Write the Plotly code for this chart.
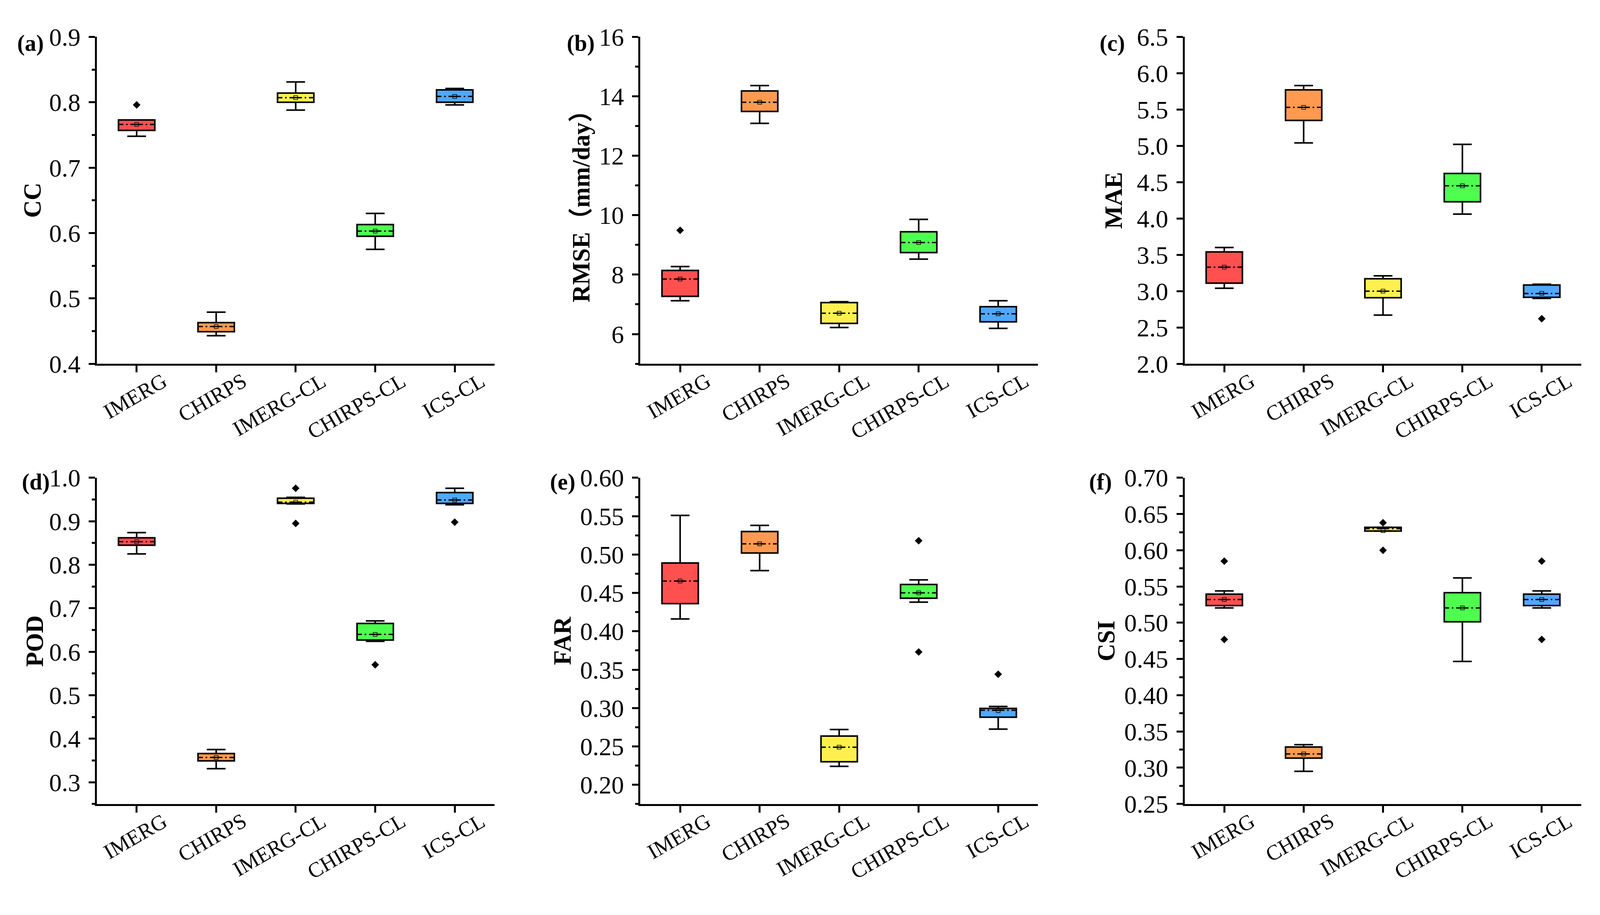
import plotly.graph_objects as go
from plotly.subplots import make_subplots

# ============================================
# DATA
# ============================================
categories = ['IMERG', 'CHIRPS', 'IMERG-CL', 'CHIRPS-CL', 'ICS-CL']

# (a) CC
cc_low = [0.748, 0.443, 0.788, 0.575, 0.796]
cc_q1 = [0.757, 0.449, 0.800, 0.595, 0.800]
cc_med = [0.766, 0.457, 0.807, 0.603, 0.809]
cc_q3 = [0.773, 0.463, 0.814, 0.613, 0.819]
cc_high = [0.773, 0.479, 0.831, 0.630, 0.821]
cc_mean = [0.766, 0.457, 0.807, 0.603, 0.809]
cc_out = [[0.796], [], [], [], []]

# (b) RMSE
rmse_low = [7.12, 13.09, 6.22, 8.52, 6.19]
rmse_q1 = [7.27, 13.49, 6.36, 8.74, 6.41]
rmse_med = [7.85, 13.80, 6.70, 9.08, 6.68]
rmse_q3 = [8.14, 14.18, 7.06, 9.44, 6.92]
rmse_high = [8.27, 14.36, 7.09, 9.86, 7.12]
rmse_mean = [7.85, 13.80, 6.70, 9.08, 6.68]
rmse_out = [[9.49], [], [], [], []]

# (c) MAE
mae_low = [3.04, 5.04, 2.67, 4.06, 2.90]
mae_q1 = [3.11, 5.35, 2.91, 4.23, 2.915]
mae_med = [3.33, 5.53, 3.00, 4.45, 2.967]
mae_q3 = [3.54, 5.77, 3.17, 4.62, 3.084]
mae_high = [3.60, 5.83, 3.21, 5.02, 3.095]
mae_mean = [3.33, 5.53, 3.00, 4.45, 2.97]
mae_out = [[], [], [], [], [2.62]]

# (d) POD
pod_low = [0.825, 0.331, 0.940, 0.624, 0.938]
pod_q1 = [0.845, 0.349, 0.941, 0.627, 0.941]
pod_med = [0.853, 0.357, 0.944, 0.640, 0.949]
pod_q3 = [0.862, 0.366, 0.953, 0.665, 0.966]
pod_high = [0.874, 0.375, 0.955, 0.671, 0.976]
pod_mean = [0.853, 0.357, 0.944, 0.640, 0.949]
pod_out = [[], [], [0.976, 0.895], [0.570], [0.898]]

# (e) FAR
far_low = [0.416, 0.479, 0.224, 0.438, 0.2725]
far_q1 = [0.436, 0.502, 0.230, 0.443, 0.288]
far_med = [0.4655, 0.514, 0.249, 0.450, 0.297]
far_q3 = [0.489, 0.530, 0.2635, 0.461, 0.2995]
far_high = [0.551, 0.538, 0.272, 0.467, 0.302]
far_mean = [0.4655, 0.514, 0.249, 0.450, 0.2965]
far_out = [[], [], [], [0.518, 0.373], [0.344]]

# (f) CSI
csi_low = [0.5205, 0.295, 0.6265, 0.4466, 0.5205]
csi_q1 = [0.5237, 0.3132, 0.6265, 0.5014, 0.5237]
csi_med = [0.532, 0.319, 0.6297, 0.5205, 0.532]
csi_q3 = [0.5395, 0.3286, 0.6317, 0.5415, 0.5395]
csi_high = [0.5439, 0.3318, 0.6317, 0.5618, 0.5439]
csi_mean = [0.532, 0.319, 0.627, 0.5205, 0.532]
csi_out = [[0.585, 0.477], [], [0.638, 0.600], [], [0.585, 0.477]]

# ============================================
# STYLE / GEOMETRY
# ============================================
# the browser page is only 4096 css px wide (height 2342), so x sizes are
# squeezed by S while y sizes are kept
S = 4310 / 4096
OFF = 8  # body margin of the html page
W, H = 4096 - OFF, 2342 - OFF
FS = 1 / 1.026  # font scale (between the x and y squeeze)


def hx(v):  # horizontal length in target px -> css px
    return v / S


def fx(p):  # target x pixel -> paper fraction
    return (p / S - OFF) / W


def fy(p):  # target y pixel (from top) -> paper fraction
    return 1 - (p - OFF) / H


FONT = 'Liberation Serif'
box_colors = ['#FF5050', '#FF9A50', '#FFF04F', '#4FFF4F', '#50A8FF']
BOX_HALF = 0.2285
CAP_HALF = 0.118
LW = 4

col_left = [261, 1725, 3191]
col_right = [1332, 2796, 4260]
row_top = [62, 1226]
row_bottom = [925, 2087]
title_x = [[87, 1565, 3000], [93, 1515, 2979]]
label_x = [[44, 1525, 2960], [57, 1479, 2932]]
label_y = [79, 1237]

panels = [
    ('(a)', 'CC', cc_low, cc_q1, cc_med, cc_q3, cc_high, cc_mean, cc_out,
     [0.4, 0.9], 0.1, 0.05, '.1f'),
    ('(b)', 'RMSE（mm/day）', rmse_low, rmse_q1, rmse_med, rmse_q3, rmse_high,
     rmse_mean, rmse_out, [5, 16], 2, 1, 'd'),
    ('(c)', 'MAE', mae_low, mae_q1, mae_med, mae_q3, mae_high, mae_mean, mae_out,
     [2.0, 6.5], 0.5, None, '.1f'),
    ('(d)', 'POD', pod_low, pod_q1, pod_med, pod_q3, pod_high, pod_mean, pod_out,
     [0.25, 1.0], 0.1, 0.05, '.1f'),
    ('(e)', 'FAR', far_low, far_q1, far_med, far_q3, far_high, far_mean, far_out,
     [0.175, 0.60], 0.05, 0.025, '.2f'),
    ('(f)', 'CSI', csi_low, csi_q1, csi_med, csi_q3, csi_high, csi_mean, csi_out,
     [0.25, 0.70], 0.05, 0.025, '.2f'),
]

fig = make_subplots(rows=2, cols=3)
annotations = []

for k, (lab, ytitle, low, q1, med, q3, high, mean, outl, yr, dt, mdt, fmt) in enumerate(panels):
    r, c = k // 3, k % 3
    idx = list(range(len(categories)))
    xs = '' if k == 0 else str(k + 1)
    slot = (col_right[c] - col_left[c]) / 5.0  # target px per category

    # whiskers + caps
    wx, wy = [], []
    for i in idx:
        wx += [i, i, None, i, i, None,
               i - CAP_HALF, i + CAP_HALF, None, i - CAP_HALF, i + CAP_HALF, None]
        wy += [q3[i], high[i], None, q1[i], low[i], None,
               high[i], high[i], None, low[i], low[i], None]
    fig.add_trace(go.Scatter(x=wx, y=wy, mode='lines',
                             line=dict(color='black', width=LW),
                             showlegend=False, hoverinfo='skip'),
                  row=r + 1, col=c + 1)

    # boxes
    fig.add_trace(go.Bar(x=idx, base=q1, y=[b - a for a, b in zip(q1, q3)],
                         width=2 * BOX_HALF,
                         marker=dict(color=box_colors,
                                     line=dict(color='black', width=LW)),
                         showlegend=False),
                  row=r + 1, col=c + 1)

    # medians (dash-dot, drawn from centre outwards)
    mx, my = [], []
    for i in idx:
        mx += [i, i - BOX_HALF, None, i, i + BOX_HALF, None]
        my += [med[i], med[i], None, med[i], med[i], None]
    fig.add_trace(go.Scatter(x=mx, y=my, mode='lines',
                             line=dict(color='black', width=3.5,
                                       dash='16px,7px,4px,7px,13px'),
                             showlegend=False, hoverinfo='skip'),
                  row=r + 1, col=c + 1)

    # means
    fig.add_trace(go.Scatter(x=idx, y=mean, mode='markers',
                             marker=dict(symbol='square-open', size=10,
                                         color='black', line=dict(width=1.5)),
                             showlegend=False),
                  row=r + 1, col=c + 1)

    # outliers
    ox, oy = [], []
    for i in idx:
        for v in outl[i]:
            ox.append(i)
            oy.append(v)
    fig.add_trace(go.Scatter(x=ox, y=oy, mode='markers',
                             marker=dict(symbol='diamond', size=15, color='black'),
                             showlegend=False),
                  row=r + 1, col=c + 1)

    # axes
    fig.update_xaxes(domain=[fx(col_left[c]), fx(col_right[c])], range=[-0.5, 4.5],
                     tickvals=idx, showticklabels=False,
                     ticks='outside', ticklen=17, tickwidth=hx(5), tickcolor='black',
                     showline=True, linewidth=5, linecolor='black',
                     showgrid=False, zeroline=False,
                     row=r + 1, col=c + 1)
    minor = dict(ticks='outside', ticklen=hx(9), tickwidth=5, tickcolor='black',
                 dtick=mdt, showgrid=False) if mdt else dict(ticks='')
    fig.update_yaxes(domain=[fy(row_bottom[r]), fy(row_top[r])], range=yr,
                     dtick=dt, tick0=0, tickformat=fmt,
                     ticks='outside', ticklen=hx(17), tickwidth=5, tickcolor='black',
                     minor=minor,
                     tickfont=dict(family=FONT, size=66 * FS, color='black'),
                     ticklabelstandoff=round(hx(8)),
                     showline=True, linewidth=hx(5), linecolor='black',
                     showgrid=False, zeroline=False,
                     row=r + 1, col=c + 1)

    # category labels: rotated, their upper-right end hangs just under the tick
    plot_h = row_bottom[r] - row_top[r]
    for i, name in enumerate(categories):
        annotations.append(dict(
            text=name, x=i + 94 / slot, xref='x' + xs,
            y=-11 / plot_h, yref='y' + xs + ' domain',
            xanchor='right', yanchor='top', textangle=-30, showarrow=False,
            borderpad=0,
            font=dict(family=FONT, size=56 * FS, color='black')))

    # y title
    annotations.append(dict(
        text='<b>' + ytitle + '</b>', x=fx(title_x[r][c]), xref='paper',
        y=0.5, yref='y' + xs + ' domain', xanchor='center', yanchor='middle',
        textangle=-90, showarrow=False,
        font=dict(family=FONT + ', Noto Sans CJK SC', size=64 * FS, color='black')))

    # panel label
    annotations.append(dict(
        text='<b>' + lab + '</b>', x=fx(label_x[r][c]), xref='paper',
        y=fy(label_y[r]), yref='paper', xanchor='left', yanchor='middle',
        showarrow=False, font=dict(family=FONT, size=60 * FS, color='black')))

fig.update_layout(
    width=W, height=H,
    margin=dict(l=0, r=0, t=0, b=0),
    paper_bgcolor='white', plot_bgcolor='white',
    font=dict(family=FONT, color='black'),
    showlegend=False,
    annotations=annotations,
)

fig.write_html("out.html")
